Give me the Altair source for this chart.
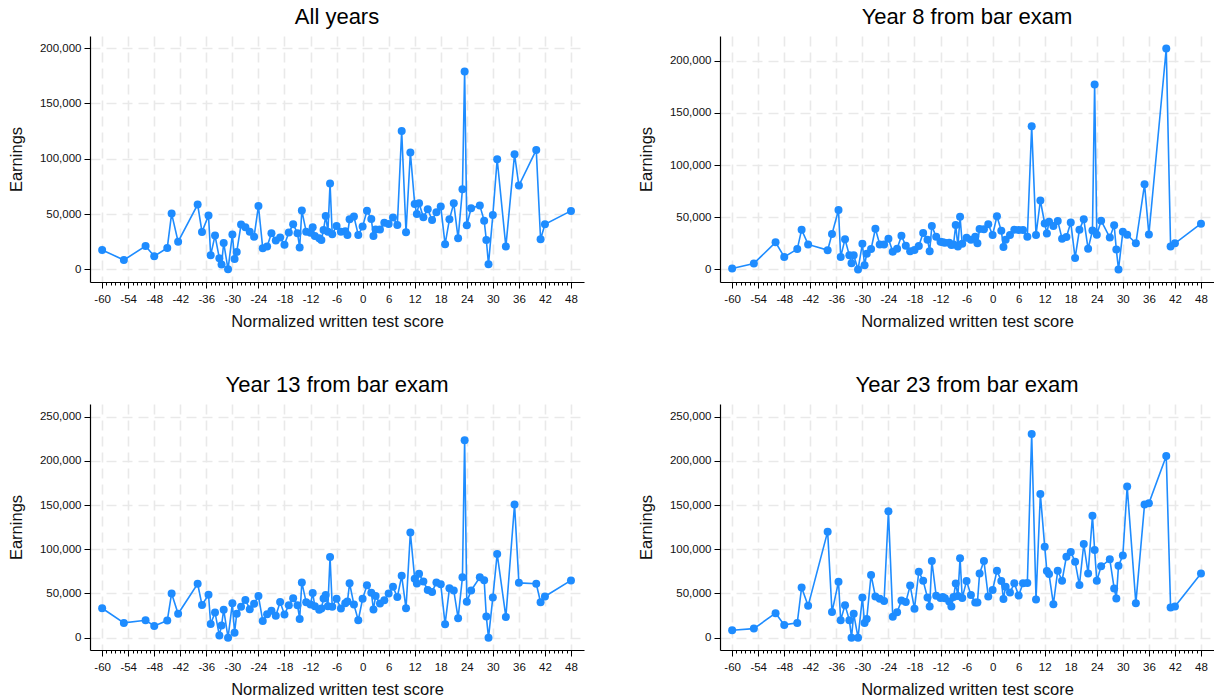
import altair as alt
import pandas as pd

# Normalized written test score (shared bins across panels)
scores = [-60, -55, -50, -48, -45, -44, -42.5, -38, -37, -35.5, -35, -34, -33, -32.5, -32, -31,
          -30, -29.5, -29, -28, -27, -26, -25, -24, -23, -22, -21, -20, -19, -18, -17, -16, -15,
          -14.5, -14, -13, -12, -11.5, -11, -10, -9.5, -9, -8.5, -8, -7.5, -7, -6, -5, -4, -3.5,
          -3, -2, -1, 0, 1, 2, 2.5, 3, 4, 5, 6, 7, 8, 9, 10, 11, 12, 12.5, 13, 14, 15, 16, 17, 18,
          19, 20, 21, 22, 23, 23.5, 24, 25, 27, 28, 28.5, 29, 30, 31, 33, 35, 36, 40, 41, 42, 48]

earn_all = [17500, 8400, 21000, 11800, 19300, 50400, 25000, 58500, 33800, 48600, 12800, 30500,
            10000, 4300, 23800, 0, 31500, 9300, 15700, 40400, 38000, 34000, 29500, 57300, 19000,
            20500, 32600, 26000, 28700, 22300, 33200, 40700, 32600, 19600, 53100, 34000, 33000,
            38000, 30000, 28000, 26500, 35600, 48300, 34000, 77500, 31700, 39200, 34000, 34500,
            31000, 45200, 47700, 31000, 38600, 53000, 45500, 30000, 36000, 36000, 42000, 41000,
            46800, 40000, 125000, 33500, 105600, 59000, 50000, 59700, 47000, 54300, 44600, 51600,
            56700, 22600, 45200, 59700, 28000, 72400, 179000, 39800, 55200, 57600, 44000, 26500,
            4500, 49200, 99500, 20500, 104000, 75700, 108000, 27100, 40700, 52800]

earn_y8 = [1000, 5800, 26000, 12000, 19500, 38000, 24000, 18500, 34000, 57000, 12000, 29000,
           13500, 6000, 13700, 0, 24600, 4000, 15000, 19500, 39000, 24000, 24000, 29500, 17000,
           19800, 32300, 22600, 17400, 18700, 22400, 35000, 28500, 17500, 41500, 31200, 26500,
           26000, 25500, 25500, 23500, 24000, 42500, 22000, 50500, 24500, 30300, 28500, 31300,
           25000, 38700, 38500, 43300, 33000, 51000, 37000, 21600, 28500, 33000, 38000, 37800,
           37800, 31300, 137000, 33000, 66000, 44000, 34500, 45700, 41500, 46500, 29500, 31000,
           45000, 11000, 38000, 48000, 19800, 37200, 177000, 33300, 46700, 30600, 42300, 19000,
           0, 36000, 33200, 25000, 81500, 33500, 211500, 22000, 25000, 43800]

earn_y13 = [33300, 16700, 19700, 13300, 19300, 50000, 27000, 61000, 37000, 48500, 15500, 28500,
            2300, 13800, 31700, 0, 39000, 5500, 27000, 35000, 42700, 32200, 38400, 47000, 18900,
            26600, 30300, 24700, 40400, 26300, 36800, 44600, 36800, 21200, 62500, 40000, 37500,
            50600, 35500, 31500, 33000, 44300, 48200, 35500, 91300, 35000, 44000, 33000, 38800,
            40800, 61600, 37400, 19700, 44000, 59200, 50800, 31900, 47000, 38600, 42400, 50100,
            57500, 46000, 70000, 33200, 119000, 66700, 61200, 72200, 63500, 54000, 51800, 62500,
            60300, 15200, 55800, 53400, 22000, 68300, 223500, 40500, 53400, 68300, 65000, 23800,
            0, 45500, 94800, 23500, 150800, 62000, 61000, 40000, 46600, 64800]

earn_y23 = [8300, 10200, 27700, 14400, 16700, 56800, 36000, 120000, 29000, 63200, 19800, 36800,
            19800, 0, 27000, 0, 45300, 16700, 21100, 70900, 46700, 44000, 41400, 143000, 23600,
            28800, 42000, 40200, 58900, 32800, 74600, 64400, 45300, 35200, 86800, 47400, 45000,
            46000, 44500, 40800, 35300, 45900, 61400, 47000, 90000, 44900, 64200, 48300, 39900,
            39700, 72700, 86800, 46500, 53900, 75600, 64200, 43700, 57600, 51000, 61600, 47600,
            61600, 61800, 230500, 43100, 162500, 103000, 75400, 72000, 37900, 75800, 64400, 91600,
            97000, 86000, 59500, 106000, 72700, 138000, 99100, 64400, 80700, 88600, 55700, 44400,
            81400, 93000, 171000, 39000, 150800, 152000, 205700, 34000, 35200, 72700]

titles = ["All years", "Year 8 from bar exam", "Year 13 from bar exam", "Year 23 from bar exam"]
x_ticks = list(range(-60, 49))
y_ticks_top = [0, 50000, 100000, 150000, 200000]
y_ticks_bottom = [0, 50000, 100000, 150000, 200000, 250000]

BLUE = "#1e8cff"
FONT = "Liberation Sans"
W, H = 494, 246


def panel(title, ys, ydom, yticks):
    df = pd.DataFrame({"score": scores, "earnings": ys})
    xaxis = alt.Axis(
        values=x_ticks,
        title="Normalized written test score",
        labelExpr="datum.value % 6 === 0 ? '' + datum.value : ''",
        labelOverlap=False,
        tickSize={"condition": {"test": "datum.value % 6 === 0", "value": 6}, "value": 3},
        gridOpacity={"condition": {"test": "datum.value % 6 === 0", "value": 1}, "value": 0},
        labelPadding=5,
        titlePadding=9,
    )
    yaxis = alt.Axis(
        values=yticks,
        format=",d",
        title="Earnings",
        tickSize=6,
        labelPadding=3,
        titlePadding=15,
    )
    x = alt.X("score:Q", scale=alt.Scale(domain=[-62.8, 51], nice=False, zero=False), axis=xaxis)
    y = alt.Y("earnings:Q", scale=alt.Scale(domain=ydom, nice=False, zero=False), axis=yaxis)
    base = alt.Chart(df)
    line = base.mark_line(color=BLUE, strokeWidth=1.6).encode(x=x, y=y)
    pts = base.mark_circle(color=BLUE, size=64, opacity=1).encode(x=x, y=y)
    return (line + pts).properties(width=W, height=H, title=title)


p1 = panel(titles[0], earn_all, [-11500, 211000], y_ticks_top)
p2 = panel(titles[1], earn_y8, [-12000, 223500], y_ticks_top)
p3 = panel(titles[2], earn_y13, [-14000, 264500], y_ticks_bottom)
p4 = panel(titles[3], earn_y23, [-14000, 264500], y_ticks_bottom)

chart = alt.vconcat(
    alt.hconcat(p1, p2, spacing=54),
    alt.hconcat(p3, p4, spacing=54),
    spacing=44,
).properties(
    padding={"left": 8, "top": 6, "right": 0, "bottom": 0}
).configure_view(stroke=None).configure_axis(
    labelFont=FONT, titleFont=FONT, labelFontSize=11.5, titleFontSize=16.5,
    labelColor="#111111", titleColor="#111111", titleFontWeight="normal",
    domainColor="#000000", tickColor="#000000", domainWidth=1.2, tickWidth=1,
    grid=True, gridColor="#e9e9e9", gridDash=[10, 6], gridWidth=1.6,
).configure_title(
    font=FONT, fontSize=22, fontWeight="normal", color="#000000", anchor="middle", offset=7
)

chart.save("out.html", embed_options={"renderer": "svg", "actions": False})
